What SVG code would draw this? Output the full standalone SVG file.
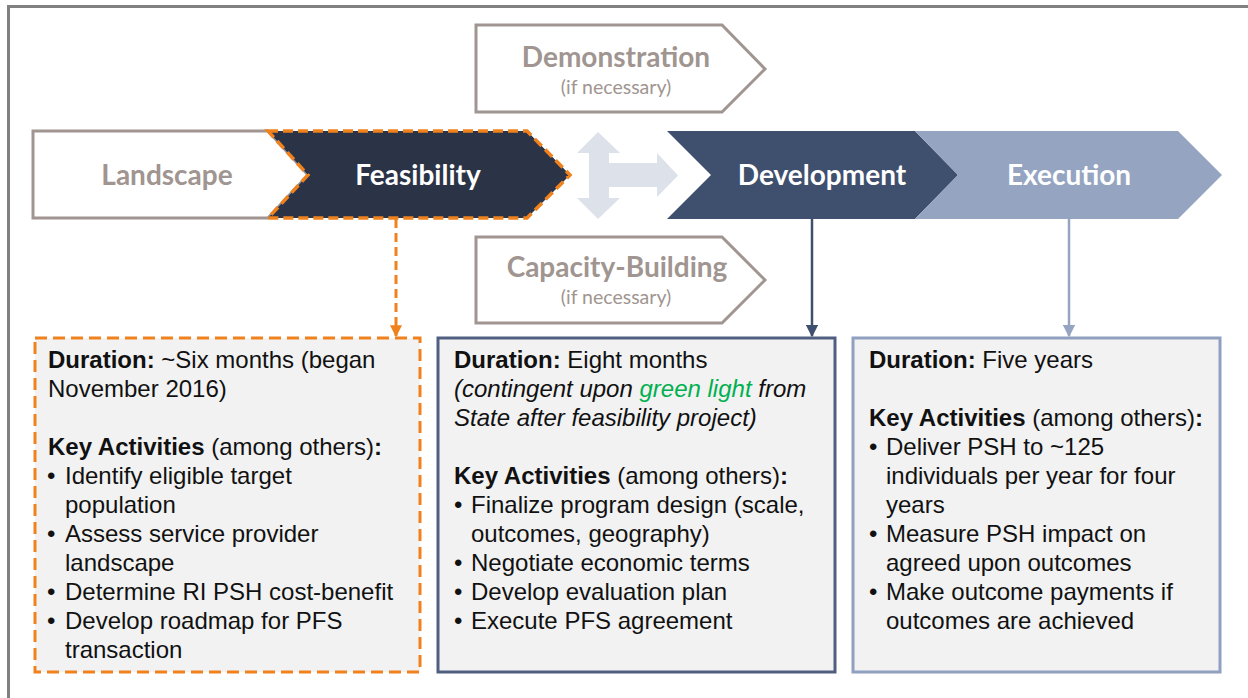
<svg xmlns="http://www.w3.org/2000/svg" width="1248" height="698" viewBox="0 0 1248 698">
  <defs>
    <style>
      .chev { font-family: Lato, "Open Sans", sans-serif; font-weight: 700; font-size: 28px; text-anchor: middle; }
      .sub { font-family: Lato, "Open Sans", sans-serif; font-size: 19.5px; text-anchor: middle; fill: #a09590; }
      .body { font-family: "Liberation Sans", Arial, sans-serif; font-size: 24px; fill: #111111; }
      .b { font-weight: 700; }
      .outline { fill: #ffffff; stroke: #a09590; stroke-width: 3; }
      .panel { fill: #f2f2f2; stroke-width: 3; }
    </style>
    <marker id="ahOrange" viewBox="0 0 10 10" refX="9" refY="5" markerWidth="4" markerHeight="4" orient="auto" markerUnits="strokeWidth">
      <path d="M0,0 L10,5 L0,10 z" fill="#f0821e"/>
    </marker>
    <marker id="ahDark" viewBox="0 0 10 10" refX="9" refY="5" markerWidth="5" markerHeight="5" orient="auto" markerUnits="strokeWidth">
      <path d="M0,0 L10,5 L0,10 z" fill="#3f4f6e"/>
    </marker>
    <marker id="ahLight" viewBox="0 0 10 10" refX="9" refY="5" markerWidth="5" markerHeight="5" orient="auto" markerUnits="strokeWidth">
      <path d="M0,0 L10,5 L0,10 z" fill="#95a5c1"/>
    </marker>
  </defs>

  <!-- frame -->
  <g id="frame" stroke="#808080" stroke-width="3" fill="none">
    <line x1="8" y1="6.5" x2="1248" y2="6.5"/>
    <line x1="8.5" y1="5" x2="8.5" y2="698"/>
  </g>

  <!-- phase chevrons -->
  <g id="landscape">
    <polygon class="outline" points="33,131 268,131 308,175 268,218 33,218"/>
    <text class="chev" x="167" y="185" fill="#a09590">Landscape</text>
  </g>
  <g id="feasibility">
    <polygon points="268,131 527,131 570,175 527,218 268,218 308,175" fill="#2b3447" stroke="#f0821e" stroke-width="3.5" stroke-dasharray="10,5"/>
    <text class="chev" x="418" y="185" fill="#ffffff">Feasibility</text>
  </g>
  <g id="demonstration">
    <polygon class="outline" points="476,25 722,25 765,69 722,112 476,112"/>
    <text class="chev" x="616" y="67" fill="#a09590">Demonstration</text>
    <text class="sub" x="616" y="94">(if necessary)</text>
  </g>
  <g id="capacity-building">
    <polygon class="outline" points="476,237 722,237 765,280 722,323 476,323"/>
    <text class="chev" x="617" y="277" fill="#a09590">Capacity-Building</text>
    <text class="sub" x="616" y="304">(if necessary)</text>
  </g>
  <g id="branch-arrow">
    <polygon points="598,132 620,153 609,153 609,163 657,163 657,153 678,175.5 657,197 657,187 609,187 609,198 620,198 598,219 577,198 589,198 589,153 577,153" fill="#dde1ea"/>
  </g>
  <g id="development">
    <polygon points="667,131 915,131 958,175 915,219 667,219 711,175" fill="#3f4f6e"/>
    <text class="chev" x="822" y="185" fill="#ffffff">Development</text>
  </g>
  <g id="execution">
    <polygon points="915,131 1178,131 1222,175 1178,219 915,219 958,175" fill="#95a5c1"/>
    <text class="chev" x="1069" y="185" fill="#ffffff">Execution</text>
  </g>

  <!-- connectors -->
  <g id="connectors" fill="none">
    <line x1="396" y1="219" x2="396" y2="336" stroke="#f0821e" stroke-width="3" stroke-dasharray="9,5" marker-end="url(#ahOrange)"/>
    <line x1="812" y1="219" x2="812" y2="336" stroke="#3f4f6e" stroke-width="2.5" marker-end="url(#ahDark)"/>
    <line x1="1069" y1="219" x2="1069" y2="336" stroke="#95a5c1" stroke-width="2.5" marker-end="url(#ahLight)"/>
  </g>

  <!-- detail panels -->
  <g id="panel-feasibility">
    <rect class="panel" x="35" y="338" width="385" height="334" stroke="#f0821e" stroke-width="3.5" stroke-dasharray="12,6"/>
    <text class="body" x="48" y="368"><tspan class="b">Duration:</tspan> ~Six months (began</text>
    <text class="body" x="48" y="397">November 2016)</text>
    <text class="body" x="48" y="455"><tspan class="b">Key Activities</tspan> (among others)<tspan class="b">:</tspan></text>
    <text class="body" x="47" y="484">•</text>
    <text class="body" x="65" y="484">Identify eligible target</text>
    <text class="body" x="65" y="513">population</text>
    <text class="body" x="47" y="542">•</text>
    <text class="body" x="65" y="542">Assess service provider</text>
    <text class="body" x="65" y="571">landscape</text>
    <text class="body" x="47" y="600">•</text>
    <text class="body" x="65" y="600">Determine RI PSH cost-benefit</text>
    <text class="body" x="47" y="629">•</text>
    <text class="body" x="65" y="629">Develop roadmap for PFS</text>
    <text class="body" x="65" y="658">transaction</text>
  </g>
  <g id="panel-development">
    <rect class="panel" x="438" y="338" width="397" height="334" stroke="#4f5f80"/>
    <text class="body" x="454" y="368"><tspan class="b">Duration:</tspan> Eight months</text>
    <text class="body" x="454" y="397" font-style="italic">(contingent upon <tspan fill="#00b050">green light</tspan> from</text>
    <text class="body" x="454" y="426" font-style="italic">State after feasibility project)</text>
    <text class="body" x="454" y="484"><tspan class="b">Key Activities</tspan> (among others)<tspan class="b">:</tspan></text>
    <text class="body" x="454" y="513">•</text>
    <text class="body" x="471" y="513">Finalize program design (scale,</text>
    <text class="body" x="471" y="542">outcomes, geography)</text>
    <text class="body" x="454" y="571">•</text>
    <text class="body" x="471" y="571">Negotiate economic terms</text>
    <text class="body" x="454" y="600">•</text>
    <text class="body" x="471" y="600">Develop evaluation plan</text>
    <text class="body" x="454" y="629">•</text>
    <text class="body" x="471" y="629">Execute PFS agreement</text>
  </g>
  <g id="panel-execution">
    <rect class="panel" x="853" y="338" width="367" height="334" stroke="#8fa0c0"/>
    <text class="body" x="869" y="368"><tspan class="b">Duration:</tspan> Five years</text>
    <text class="body" x="869" y="426"><tspan class="b">Key Activities</tspan> (among others)<tspan class="b">:</tspan></text>
    <text class="body" x="869" y="455">•</text>
    <text class="body" x="886" y="455">Deliver PSH to ~125</text>
    <text class="body" x="886" y="484">individuals per year for four</text>
    <text class="body" x="886" y="513">years</text>
    <text class="body" x="869" y="542">•</text>
    <text class="body" x="886" y="542">Measure PSH impact on</text>
    <text class="body" x="886" y="571">agreed upon outcomes</text>
    <text class="body" x="869" y="600">•</text>
    <text class="body" x="886" y="600">Make outcome payments if</text>
    <text class="body" x="886" y="629">outcomes are achieved</text>
  </g>
</svg>
